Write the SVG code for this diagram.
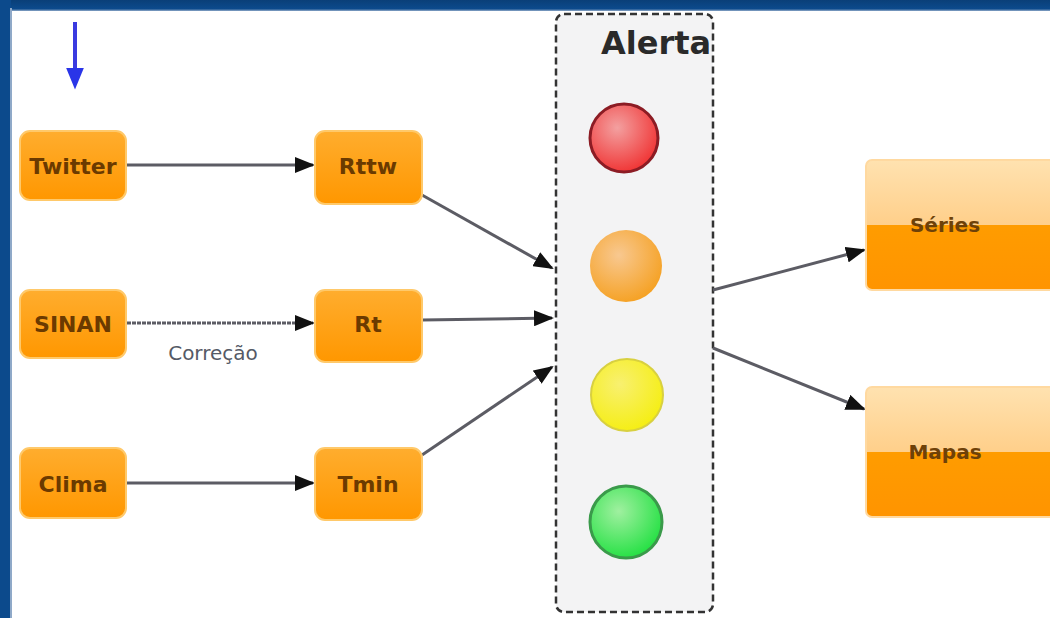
<svg xmlns="http://www.w3.org/2000/svg" width="1050" height="618" viewBox="0 0 1050 618">
<style>
.box{fill:url(#og);stroke:#ffc96a;stroke-width:2}
.lbl{font-family:"DejaVu Sans",sans-serif;font-size:22px;font-weight:bold;fill:#6b3a00;text-anchor:middle}
.big{font-family:"DejaVu Sans",sans-serif;font-size:20px;font-weight:bold;fill:#6e4108;text-anchor:middle}
.con{stroke:#5c5c64;stroke-width:3;fill:none;marker-end:url(#ah)}
</style>
<defs>
<linearGradient id="og" x1="0" y1="0" x2="0" y2="1">
<stop offset="0" stop-color="#ffad2e"/><stop offset="1" stop-color="#ff9700"/>
</linearGradient>
<linearGradient id="sg" x1="0" y1="0" x2="0" y2="1">
<stop offset="0" stop-color="#ffe2b0"/><stop offset="0.5" stop-color="#ffcf8a"/><stop offset="0.5" stop-color="#ff9c00"/><stop offset="1" stop-color="#ff9400"/>
</linearGradient>
<linearGradient id="bd" x1="0" y1="0" x2="0" y2="1">
<stop offset="0" stop-color="#0a3f78"/><stop offset="0.8" stop-color="#0c4a8c"/><stop offset="1" stop-color="#8fa9c8"/>
</linearGradient>
<radialGradient id="rd" cx="0.4" cy="0.35" r="0.7"><stop offset="0" stop-color="#f3a0a0"/><stop offset="1" stop-color="#f03030"/></radialGradient>
<radialGradient id="or" cx="0.4" cy="0.35" r="0.7"><stop offset="0" stop-color="#f8c890"/><stop offset="1" stop-color="#f5a020"/></radialGradient>
<radialGradient id="yl" cx="0.4" cy="0.35" r="0.7"><stop offset="0" stop-color="#f8f070"/><stop offset="1" stop-color="#f5ee10"/></radialGradient>
<radialGradient id="gr" cx="0.4" cy="0.35" r="0.7"><stop offset="0" stop-color="#a0f0a0"/><stop offset="1" stop-color="#20e040"/></radialGradient>
<marker id="ah" viewBox="0 0 10 10" refX="9" refY="5" markerWidth="20" markerHeight="16" orient="auto" markerUnits="userSpaceOnUse" preserveAspectRatio="none">
<path d="M0,0 L10,5 L0,10 z" fill="#111"/>
</marker>
<marker id="ahb" viewBox="0 0 10 10" refX="2" refY="5" markerWidth="22" markerHeight="18" orient="auto" markerUnits="userSpaceOnUse" preserveAspectRatio="none">
<path d="M0,0 L10,5 L0,10 z" fill="#2a35e8"/>
</marker>
</defs>
<rect x="0" y="0" width="1050" height="618" fill="#ffffff"/>
<rect x="0" y="0" width="1050" height="11" fill="url(#bd)"/>
<rect x="0" y="0" width="11" height="618" fill="#0c4a8c"/>
<rect x="10" y="8" width="2" height="610" fill="#8fa9c8"/>

<g id="alerta">
<rect x="556" y="14" width="157" height="598" rx="8" fill="#f3f3f4" stroke="#333" stroke-width="2.5" stroke-dasharray="7,4"/>
<text x="656" y="54" font-family="'DejaVu Sans',sans-serif" font-size="32" font-weight="bold" fill="#2a2a2a" text-anchor="middle">Alerta</text>
<circle cx="624" cy="138" r="34" fill="url(#rd)" stroke="#8c1c24" stroke-width="3"/>
<circle cx="626" cy="266" r="36" fill="url(#or)"/>
<circle cx="627" cy="395" r="36" fill="url(#yl)" stroke="#d8d040" stroke-width="2"/>
<circle cx="626" cy="522" r="36" fill="url(#gr)" stroke="#3a9a4a" stroke-width="3"/>
</g>

<g id="blue-arrow">
<line x1="75" y1="22" x2="75" y2="72" stroke="#3a3ae0" stroke-width="4" marker-end="url(#ahb)"/>
</g>

<g id="connectors">
<line class="con" x1="127" y1="165" x2="313" y2="165"/>
<line class="con" x1="127" y1="323" x2="313" y2="323" stroke-dasharray="4,1"/>
<line class="con" x1="127" y1="483" x2="313" y2="483"/>
<line class="con" x1="422" y1="195" x2="552" y2="268"/>
<line class="con" x1="422" y1="320" x2="552" y2="318"/>
<line class="con" x1="422" y1="455" x2="552" y2="367"/>
<line class="con" x1="713" y1="290" x2="864" y2="250"/>
<line class="con" x1="713" y1="348" x2="864" y2="409"/>
<text x="213" y="360" font-family="'DejaVu Sans',sans-serif" font-size="20" fill="#555a66" text-anchor="middle">Correção</text>
</g>

<g id="twitter"><rect class="box" x="20" y="131" width="106" height="69" rx="10"/><text class="lbl" x="73" y="174">Twitter</text></g>
<g id="sinan"><rect class="box" x="20" y="290" width="106" height="68" rx="10"/><text class="lbl" x="73" y="332">SINAN</text></g>
<g id="clima"><rect class="box" x="20" y="448" width="106" height="70" rx="10"/><text class="lbl" x="73" y="492">Clima</text></g>
<g id="rttw"><rect class="box" x="315" y="131" width="107" height="73" rx="10"/><text class="lbl" x="368" y="174">Rttw</text></g>
<g id="rt"><rect class="box" x="315" y="290" width="107" height="72" rx="10"/><text class="lbl" x="368" y="332">Rt</text></g>
<g id="tmin"><rect class="box" x="315" y="448" width="107" height="72" rx="10"/><text class="lbl" x="368" y="492">Tmin</text></g>

<g id="series"><rect x="866" y="160" width="190" height="130" rx="6" fill="url(#sg)" stroke="#ffd9a0" stroke-width="2"/><text class="big" x="945" y="232">Séries</text></g>
<g id="mapas"><rect x="866" y="387" width="190" height="130" rx="6" fill="url(#sg)" stroke="#ffd9a0" stroke-width="2"/><text class="big" x="945" y="459">Mapas</text></g>
</svg>
